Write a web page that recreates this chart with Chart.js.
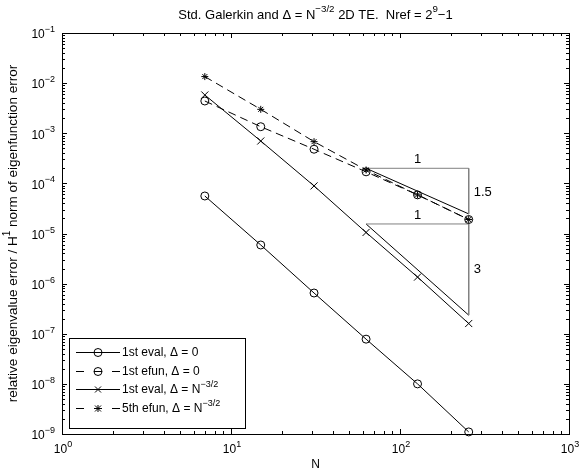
<!DOCTYPE html>
<html>
<head>
<meta charset="utf-8">
<script src="https://cdn.jsdelivr.net/npm/chart.js@4/dist/chart.umd.min.js"></script>
<style>
  body { margin: 0; background: #fff; }
  canvas { display: block; }
</style>
</head>
<body>
<canvas id="chart" width="581" height="475"></canvas>
<script>
const N = [7, 15, 31, 63, 127, 255];
const evalZero = [5.6e-5, 5.9e-6, 6.5e-7, 7.8e-8, 1.0e-8, 1.1e-9];
const efunZero = [4.4e-3, 1.35e-3, 4.8e-4, 1.7e-4, 5.9e-5, 1.9e-5];
const evalDelta = [5.8e-3, 7.0e-4, 8.9e-5, 1.05e-5, 1.35e-6, 1.6e-7];
const efunDelta = [1.35e-2, 3.0e-3, 6.8e-4, 1.85e-4, 5.9e-5, 1.9e-5];

// convergence triangles: [x0, x1], [top, bottom]
const tri1X = [63, 255];
const tri1Y = [2.0e-4, 2.46e-5];
const tri2X = [63, 255];
const tri2Y = [1.55e-5, 2.35e-7];

const xTicks = [1, 10, 100, 1000];
const xTickExp = ["0", "1", "2", "3"];
const yTicks = [1e-1, 1e-2, 1e-3, 1e-4, 1e-5, 1e-6, 1e-7, 1e-8, 1e-9];
const yTickExp = ["\u22121", "\u22122", "\u22123", "\u22124", "\u22125", "\u22126", "\u22127", "\u22128", "\u22129"];

const FONT = "'Liberation Sans', Arial, Helvetica, sans-serif";
const DASH = [8, 5];

function pts(xs, ys) {
  return xs.map((x, i) => ({ x: x, y: ys[i] }));
}

function series(label, xs, ys, dash, style, radius) {
  return {
    label: label,
    data: pts(xs, ys),
    showLine: true,
    borderColor: "#000",
    borderWidth: 1,
    borderDash: dash,
    pointStyle: style,
    pointRadius: radius,
    pointBorderColor: "#000",
    pointBackgroundColor: "rgba(0,0,0,0)",
    pointBorderWidth: 1,
    clip: false
  };
}

function guide(xs, ys, color) {
  return {
    data: pts(xs, ys),
    showLine: true,
    borderColor: color,
    borderWidth: 1,
    pointRadius: 0,
    clip: false
  };
}

// rich text with superscripts: parts = [[text, isSup], ...]
function richWidth(ctx, parts, size) {
  let w = 0;
  parts.forEach(([t, sup]) => {
    ctx.font = `${sup ? size * 0.75 : size}px ${FONT}`;
    w += ctx.measureText(t).width;
  });
  return w;
}

function drawRich(ctx, parts, x, y, size, align) {
  const w = richWidth(ctx, parts, size);
  let cx = align === "center" ? x - w / 2 : align === "right" ? x - w : x;
  ctx.textBaseline = "middle";
  ctx.textAlign = "left";
  parts.forEach(([t, sup]) => {
    ctx.font = `${sup ? size * 0.75 : size}px ${FONT}`;
    ctx.fillText(t, cx, sup ? y - size * 0.45 : y);
    cx += ctx.measureText(t).width;
  });
}

function drawMarker(ctx, style, x, y) {
  ctx.beginPath();
  if (style === "circle") {
    ctx.arc(x, y, 4, 0, Math.PI * 2);
  } else {
    const r = 3;
    ctx.moveTo(x - r, y - r); ctx.lineTo(x + r, y + r);
    ctx.moveTo(x - r, y + r); ctx.lineTo(x + r, y - r);
    if (style === "star") {
      ctx.moveTo(x, y - 3.5); ctx.lineTo(x, y + 3.5);
    }
  }
  ctx.stroke();
}

const legendItems = [
  { parts: [["1st eval, \u0394 = 0", false]], dash: [], style: "circle" },
  { parts: [["1st efun, \u0394 = 0", false]], dash: [8, 10], style: "circle" },
  { parts: [["1st eval, \u0394 = N", false], ["\u22123/2", true]], dash: [], style: "cross" },
  { parts: [["5th efun, \u0394 = N", false], ["\u22123/2", true]], dash: [8, 10], style: "star" }
];

const annotations = [
  { text: "1", x: 127, y: tri1Y[0], dx: 0, dy: -9, align: "center" },
  { text: "1.5", x: 255, y: 6.7e-5, dx: 5, dy: 0, align: "left" },
  { text: "1", x: 127, y: tri2Y[0], dx: 0, dy: -9, align: "center" },
  { text: "3", x: 255, y: 1.9e-6, dx: 5, dy: 0, align: "left" }
];

const matlabAxes = {
  id: "matlabAxes",
  afterDraw(chart) {
    const ctx = chart.ctx;
    const a = chart.chartArea;
    const xs = chart.scales.x;
    const ys = chart.scales.y;
    ctx.save();
    ctx.strokeStyle = "#000";
    ctx.fillStyle = "#000";
    ctx.lineWidth = 1;
    ctx.setLineDash([]);

    // box
    ctx.strokeRect(Math.round(a.left) + 0.5, Math.round(a.top) + 0.5,
      Math.round(a.right - a.left), Math.round(a.bottom - a.top));

    // ticks
    ctx.beginPath();
    for (let d = 0; d < 3; d++) {
      for (let m = 1; m <= 9; m++) {
        const v = Math.pow(10, d) * m;
        const px = Math.round(xs.getPixelForValue(v)) + 0.5;
        const len = m === 1 ? 5 : 3;
        ctx.moveTo(px, a.bottom); ctx.lineTo(px, a.bottom - len);
        ctx.moveTo(px, a.top); ctx.lineTo(px, a.top + len);
      }
    }
    for (let d = -9; d < -1; d++) {
      for (let m = 1; m <= 9; m++) {
        const v = Math.pow(10, d) * m;
        const py = Math.round(ys.getPixelForValue(v)) + 0.5;
        const len = m === 1 ? 5 : 3;
        ctx.moveTo(a.left, py); ctx.lineTo(a.left + len, py);
        ctx.moveTo(a.right, py); ctx.lineTo(a.right - len, py);
      }
    }
    ctx.stroke();

    // tick labels
    xTicks.forEach((v, i) => {
      const px = xs.getPixelForValue(v);
      drawRich(ctx, [["10", false], [xTickExp[i], true]], px + 1, a.bottom + 16, 12, "center");
    });
    yTicks.forEach((v, i) => {
      const py = ys.getPixelForValue(v);
      drawRich(ctx, [["10", false], [yTickExp[i], true]], a.left - 7, py + 2, 12, "right");
    });

    // title and axis labels
    drawRich(ctx, [["Std. Galerkin and \u0394 = N", false], ["\u22123/2", true],
      [" 2D TE.  Nref = 2", false], ["9", true], ["\u22121", false]],
      (a.left + a.right) / 2, 15, 13, "center");
    drawRich(ctx, [["N", false]], (a.left + a.right) / 2, 465, 12, "center");
    ctx.save();
    ctx.translate(13, (a.top + a.bottom) / 2);
    ctx.rotate(-Math.PI / 2);
    drawRich(ctx, [["relative eigenvalue error / H", false], ["1", true],
      [" norm of eigenfunction error", false]], 0, 0, 13.5, "center");
    ctx.restore();

    // triangle annotations
    annotations.forEach((n) => {
      const px = xs.getPixelForValue(n.x) + n.dx;
      const py = ys.getPixelForValue(n.y) + n.dy;
      drawRich(ctx, [[n.text, false]], px, py, 13, n.align);
    });

    // legend
    const lx = a.left + 7, ly = 338, lw = 176, lh = 90;
    ctx.fillStyle = "#fff";
    ctx.fillRect(lx, ly, lw, lh);
    ctx.strokeStyle = "#000";
    ctx.strokeRect(lx + 0.5, ly + 0.5, lw, lh);
    ctx.fillStyle = "#000";
    legendItems.forEach((item, i) => {
      const y = Math.round(ly + 14 + i * 18.7);
      ctx.setLineDash(item.dash);
      ctx.beginPath();
      ctx.moveTo(lx + 7, y + 0.5); ctx.lineTo(lx + 51, y + 0.5);
      ctx.stroke();
      ctx.setLineDash([]);
      drawMarker(ctx, item.style, lx + 29, y + 0.5);
      drawRich(ctx, item.parts, lx + 53, y + 1, 12, "left");
    });
    ctx.restore();
  }
};

new Chart(document.getElementById("chart"), {
  type: "scatter",
  data: {
    datasets: [
      series("1st eval, \u0394 = 0", N, evalZero, [], "circle", 4),
      series("1st efun, \u0394 = 0", N, efunZero, DASH, "circle", 4),
      series("1st eval, \u0394 = N^-3/2", N, evalDelta, [], "crossRot", 5),
      series("5th efun, \u0394 = N^-3/2", N, efunDelta, DASH, "star", 3.5),
      guide([tri1X[0], tri1X[1], tri1X[1]], [tri1Y[0], tri1Y[0], tri1Y[1]], "#808080"),
      guide(tri1X, tri1Y, "#000"),
      guide([tri2X[0], tri2X[1], tri2X[1]], [tri2Y[0], tri2Y[0], tri2Y[1]], "#808080"),
      guide(tri2X, tri2Y, "#000")
    ]
  },
  options: {
    responsive: false,
    animation: false,
    layout: { padding: { left: 62, right: 12, top: 33, bottom: 41 } },
    plugins: { legend: { display: false }, tooltip: { enabled: false }, title: { display: false } },
    scales: {
      x: { type: "logarithmic", min: 1, max: 1000, display: false },
      y: { type: "logarithmic", min: 1e-9, max: 1e-1, display: false }
    }
  },
  plugins: [matlabAxes]
});
</script>
</body>
</html>
